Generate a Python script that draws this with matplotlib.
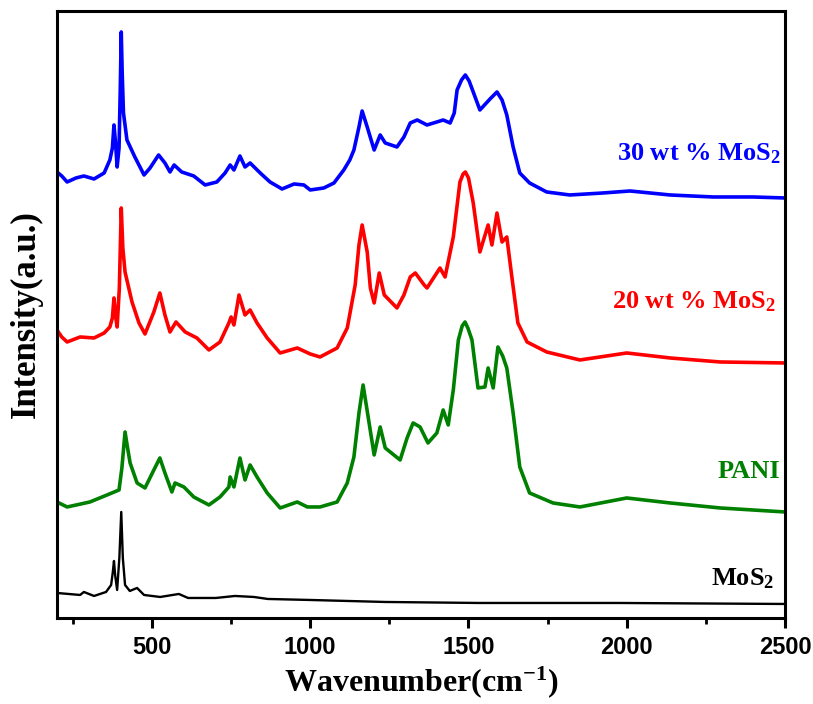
import matplotlib
matplotlib.use("Agg")
import matplotlib.pyplot as plt
from matplotlib.ticker import MultipleLocator

plt.rcParams["mathtext.fontset"] = "custom"
plt.rcParams["mathtext.default"] = "regular"

# Raman spectra (wavenumber in cm^-1, intensity in a.u., stacked with offsets)
wn_30 = [200, 215, 232, 260, 285, 317, 349, 367, 375, 380, 385, 390, 396, 400, 403, 406, 410, 421,
         446, 475, 494, 521, 541, 557, 570, 594, 632, 668, 705, 731, 747, 759, 778, 794,
         810, 842, 873, 911, 949, 980, 1000, 1043, 1075, 1106, 1125, 1138, 1154, 1164,
         1180, 1202, 1221, 1237, 1274, 1296, 1316, 1338, 1369, 1400, 1420, 1442, 1455,
         1464, 1478, 1490, 1502, 1515, 1536, 1568, 1590, 1606, 1621, 1641, 1662, 1693,
         1747, 1820, 1925, 2010, 2137, 2273, 2399, 2500]
int_30 = [446, 442, 436, 440, 442, 439, 445, 458, 470, 493, 475, 451, 470, 530, 586, 545, 505, 478,
          461, 443, 450, 463, 455, 446, 453, 446, 442, 433, 436, 445, 453, 448, 462, 451,
          455, 445, 436, 429, 434, 433, 428, 430, 435, 448, 458, 468, 491, 507,
          491, 468, 483, 475, 471, 481, 495, 498, 493, 496, 498, 495, 505,
          528, 538, 543, 537, 526, 508, 519, 526, 518, 503, 471, 445, 435,
          426, 423, 425, 427, 423, 421, 421, 420]

wn_20 = [200, 215, 232, 273, 317, 349, 367, 375, 380, 385, 390, 397, 403, 408, 415, 437, 459, 478,
         506, 525, 541, 557, 576, 605, 642, 680, 715, 743, 750, 759, 775, 794, 810, 832,
         864, 905, 959, 1000, 1031, 1085, 1117, 1142, 1154, 1164, 1180, 1190, 1202, 1218,
         1234, 1274, 1296, 1316, 1332, 1360, 1369, 1410, 1426, 1452, 1473, 1483, 1490,
         1500, 1515, 1536, 1562, 1574, 1590, 1606, 1621, 1637, 1656, 1685, 1747, 1852,
         2000, 2137, 2295, 2500]
int_20 = [288, 281, 276, 281, 280, 285, 291, 300, 320, 302, 291, 330, 410, 370, 346, 316, 295, 284,
          306, 325, 303, 286, 296, 286, 280, 268, 276, 295, 301, 293, 323, 303, 308, 295,
          280, 265, 270, 264, 261, 270, 290, 333, 373, 393, 366, 330, 315, 345,
          323, 310, 323, 341, 345, 333, 330, 350, 341, 381, 436, 444, 446,
          440, 415, 366, 393, 373, 405, 376, 381, 341, 295, 276, 266, 258,
          265, 260, 256, 255]

wn_pani = [200, 232, 304, 358, 396, 405, 415, 423, 431, 453, 478, 506, 525, 541, 563, 573, 601,
           632, 680, 715, 743, 747, 759, 778, 794, 810, 832, 864, 905, 959, 991, 1031,
           1085, 1117, 1138, 1154, 1167, 1186, 1202, 1221, 1237, 1284, 1306, 1325, 1347,
           1372, 1400, 1420, 1436, 1452, 1468, 1480, 1489, 1498, 1511, 1530, 1552, 1562,
           1578, 1593, 1608, 1621, 1641, 1662, 1693, 1767, 1852, 2000, 2137, 2295, 2500]
int_pani = [116, 111, 116, 123, 128, 150, 186, 170, 155, 135, 130, 148, 160, 145, 126, 135, 131,
            121, 113, 121, 131, 141, 131, 160, 138, 153, 141, 125, 110, 116, 111, 111,
            116, 135, 161, 205, 233, 195, 163, 191, 170, 158, 180, 195, 191,
            175, 185, 208, 193, 228, 278, 292, 296, 290, 278, 230, 231, 250,
            230, 271, 262, 250, 205, 151, 125, 115, 111, 120, 115, 110, 106]

wn_mos2 = [200, 273, 285, 317, 355, 371, 376, 380, 384, 390, 397, 403, 408, 415, 430, 453, 475,
           526, 585, 614, 702, 762, 822, 866, 1000, 1237, 1533, 1976, 2500]
int_mos2 = [25, 23, 26, 22, 26, 33, 45, 57, 42, 28, 60, 106, 60, 33, 27, 30, 23,
            21, 24, 20, 20, 22, 21, 19, 18, 16, 15, 15, 14]

series = [
    (wn_30, int_30, "#0000FF", r"30 wt % MoS$_2$", 458),
    (wn_20, int_20, "#FF0000", r"20 wt % MoS$_2$", 310),
    (wn_pani, int_pani, "#008000", "PANI", 140),
    (wn_mos2, int_mos2, "#000000", r"MoS$_2$", 33),
]
label_right = [2485, 2470, 2485, 2465]

fig = plt.figure(figsize=(8.13, 7.04), dpi=100)
ax = fig.add_axes([0.0701, 0.1222, 0.8955, 0.8622])

serif_bold = dict(family=["Liberation Serif", "DejaVu Serif"], weight="bold")

for (x, y, color, label, ly), lx in zip(series, label_right):
    ax.plot(x, y, color=color, lw=2.6 if color != "#000000" else 1.7,
            solid_joinstyle="round")
    ax.text(lx, ly, label, color=color, ha="right", va="baseline", fontsize=19, **serif_bold)

ax.set_xlim(200, 2500)
ax.set_ylim(0, 607)
ax.xaxis.set_major_locator(MultipleLocator(500))
ax.xaxis.set_minor_locator(MultipleLocator(250))
ax.set_yticks([])

for side in ["left", "right", "top", "bottom"]:
    ax.spines[side].set_linewidth(2.2)

ax.tick_params(axis="x", which="major", direction="out", length=7, width=2.2, pad=6)
ax.tick_params(axis="x", which="minor", direction="out", length=4.5, width=2.0)
for lbl in ax.get_xticklabels():
    lbl.set_fontfamily(["Liberation Sans Narrow", "Liberation Sans", "DejaVu Sans"])
    lbl.set_fontweight("bold")
    lbl.set_fontsize(17)

ax.set_xlabel(r"Wavenumber(cm$^{-1}$)", fontsize=23, labelpad=4, **serif_bold)
ax.set_ylabel("Intensity(a.u.)", fontsize=25, labelpad=10, **serif_bold)

fig.savefig("out.png", dpi=100)
